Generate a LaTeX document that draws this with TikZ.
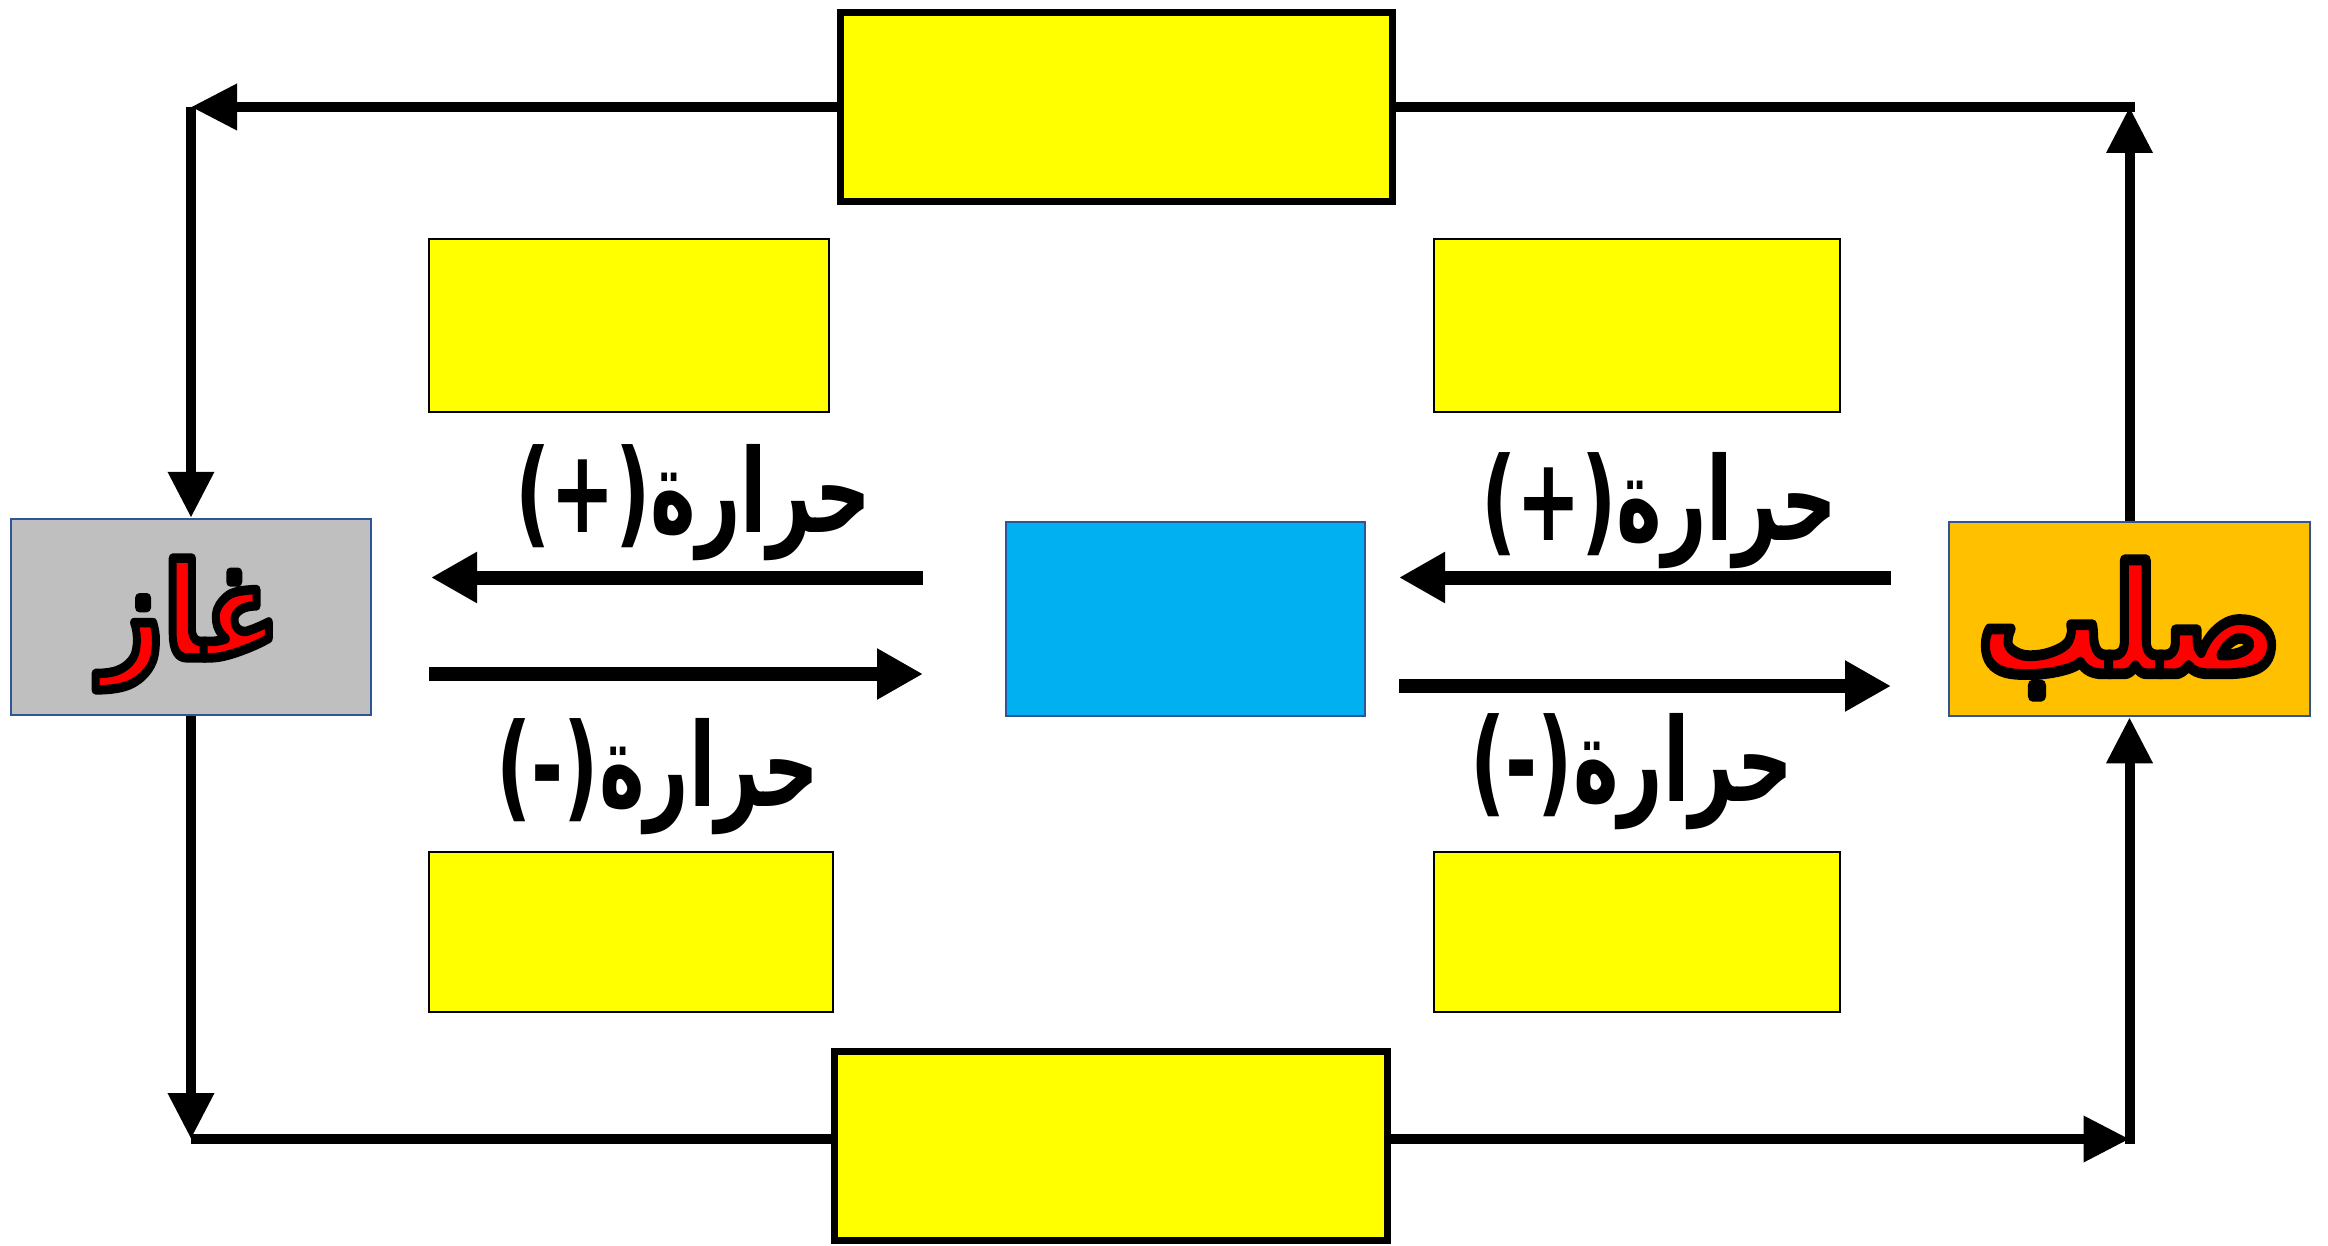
\documentclass[tikz,border=0pt]{standalone}
\usepackage{fontspec}
\usepackage{graphicx}
\usetikzlibrary{arrows.meta}
\TeXXeTstate=1
\newfontfamily\arabicfont[Script=Arabic]{DejaVu Sans}
\definecolor{ppblue}{HTML}{2F5597}
\definecolor{stategray}{HTML}{BFBFBF}
\definecolor{stateorange}{HTML}{FFC000}
\definecolor{statecyan}{HTML}{00B0F0}
\definecolor{boxyellow}{HTML}{FFFF00}
\newcommand{\outlinedtext}[1]{\special{pdf:literal direct 2 Tr 9 w 1 j 0 0 0 RG 1 0 0 rg}#1\special{pdf:literal direct 0 Tr}}
\newcommand{\heattext}[1]{\scalebox{0.84}[1.26]{\beginR #1\endR}}
\tikzset{
  bigbox/.style={draw=black, line width=7pt, fill=boxyellow, inner sep=0pt},
  smallbox/.style={draw=black, line width=2pt, fill=boxyellow, inner sep=0pt},
  statebox/.style={draw=ppblue, line width=2.5pt, inner sep=0pt},
  loopline/.style={line width=10pt},
  looparrow/.style={line width=10pt, -{Triangle[length=46pt,width=44pt]}},
  midarrow/.style={line width=14pt, -{Triangle[length=46pt,width=48pt]}},
  heatlabel/.style={inner sep=0pt, font=\arabicfont\bfseries\fontsize{92}{92}\selectfont},
  statelabel/.style={inner sep=0pt, font=\arabicfont\bfseries\fontsize{125}{125}\selectfont},
}
\begin{document}
\begin{tikzpicture}[x=1pt,y=-1pt]
\useasboundingbox (0,0) rectangle (2328,1246);
% boxes
\node[bigbox, minimum width=552pt, minimum height=189pt] (top) at (1116.5,107) {};
\node[bigbox, minimum width=553pt, minimum height=189pt] (bottom) at (1111,1146) {};
\node[smallbox, minimum width=400pt, minimum height=173pt] (lt) at (629,325.5) {};
\node[smallbox, minimum width=406pt, minimum height=173pt] (rt) at (1637,325.5) {};
\node[smallbox, minimum width=404pt, minimum height=160pt] (lb) at (631,932) {};
\node[smallbox, minimum width=406pt, minimum height=160pt] (rb) at (1637,932) {};
\node[statebox, fill=stategray, minimum width=360pt, minimum height=196pt] (gas) at (191,617) {};
\node[statebox, fill=stateorange, minimum width=361pt, minimum height=194pt] (solid) at (2129.5,619) {};
\node[statebox, fill=statecyan, minimum width=359pt, minimum height=194pt] (center) at (1185.5,619) {};
% corner coordinates
\coordinate (c1) at (gas.north |- top.west);
\coordinate (c2) at (solid.north |- top.east);
\coordinate (c3) at (191,1139);
\coordinate (c4) at (2129.5,1139);
% outer loop
\draw[looparrow] (top.west) -- (c1);
\draw[looparrow] (c1) -- (gas.north);
\draw[looparrow] (solid.north) -- (c2);
\draw[loopline] (c2 -| top.east) -- ([xshift=5pt]c2);
\draw[looparrow] (gas.south) -- (c3);
\draw[loopline] (c3) -- (c3 -| bottom.west);
\draw[looparrow] (c4 -| bottom.east) -- (c4);
\draw[looparrow] ([yshift=-5pt]c4) -- (solid.south);
% middle arrows
\coordinate (a1s) at (923,577.5);
\coordinate (a1e) at (431,577.5);
\coordinate (a2s) at (429,674);
\coordinate (a2e) at (923,674);
\coordinate (a3s) at (1891,577.5);
\coordinate (a3e) at (1399,577.5);
\coordinate (a4s) at (1399,686);
\coordinate (a4e) at (1891,686);
\draw[midarrow] (a1s) -- (a1e);
\draw[midarrow] (a2s) -- (a2e);
\draw[midarrow] (a3s) -- (a3e);
\draw[midarrow] (a4s) -- (a4e);
% heat labels
\node[heatlabel] (h1) at (693,503) {\heattext{حرارة(+)}};
\node[heatlabel] (h2) at (658,777) {\heattext{حرارة(-)}};
\node[heatlabel] (h3) at (1659,511) {\heattext{حرارة(+)}};
\node[heatlabel] (h4) at (1632,772) {\heattext{حرارة(-)}};
% state labels
\node[statelabel] (gastext) at (190,624) {\scalebox{0.88}[1.05]{\outlinedtext{\beginR غاز\endR}}};
\node[statelabel] (solidtext) at (2129.5,628) {\scalebox{1.0}[1.2]{\outlinedtext{\beginR صلب\endR}}};
\end{tikzpicture}
\end{document}
